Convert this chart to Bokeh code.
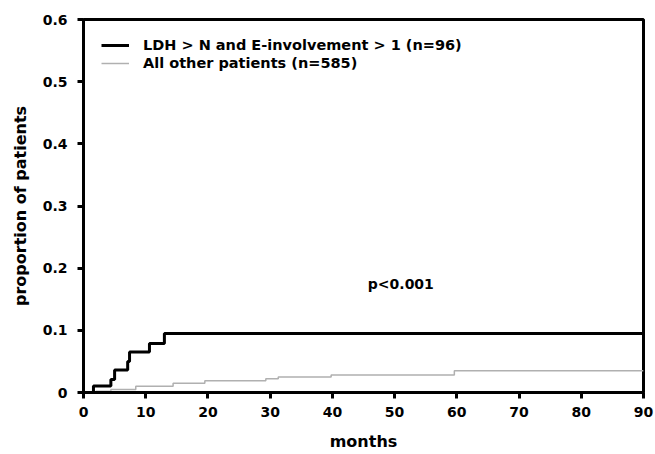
from bokeh.plotting import figure
from bokeh.models import Legend, LegendItem, Label
from bokeh.embed import file_html
from bokeh.resources import INLINE

# Data
high_months = [0, 1.6, 4.4, 5.0, 7.1, 7.4, 10.6, 13.0, 90]
high_prop = [0, 0.0104, 0.021, 0.036, 0.050, 0.065, 0.079, 0.095, 0.095]
other_months = [0, 2.0, 4.4, 8.4, 14.4, 19.5, 29.3, 31.3, 39.8, 59.6, 90]
other_prop = [0, 0.002, 0.005, 0.010, 0.015, 0.019, 0.022, 0.025, 0.028, 0.035, 0.035]
x_ticks = [0, 10, 20, 30, 40, 50, 60, 70, 80, 90]
y_ticks = [0, 0.1, 0.2, 0.3, 0.4, 0.5, 0.6]
y_tick_labels = {0: "0", 0.1: "0.1", 0.2: "0.2", 0.3: "0.3", 0.4: "0.4", 0.5: "0.5", 0.6: "0.6"}
label_high = "LDH > N and E-involvement > 1 (n=96)"
label_other = "All other patients (n=585)"
p_text = "p<0.001"
p_pos = (51, 0.175)

FONT = "DejaVu Sans"

p = figure(width=655, height=454, x_range=(0, 90), y_range=(0, 0.6),
           output_backend="svg", toolbar_location=None,
           min_border_left=83, min_border_right=12, min_border_top=19,
           min_border_bottom=62)

p.xgrid.visible = False
p.ygrid.visible = False
p.background_fill_color = "white"
p.border_fill_color = "white"
p.outline_line_color = "black"
p.outline_line_width = 3

r_high = p.step(high_months, high_prop, mode="after", line_color="black", line_width=3)
r_other = p.step(other_months, other_prop, mode="after", line_color="#b0b0b0", line_width=1.5)

for ax in (p.xaxis[0], p.yaxis[0]):
    ax.axis_line_width = 3
    ax.axis_line_color = "black"
    ax.major_tick_line_width = 3
    ax.major_tick_out = 6
    ax.major_tick_in = 0
    ax.minor_tick_line_color = None
    ax.major_label_text_font = FONT
    ax.major_label_text_font_style = "bold"
    ax.major_label_text_font_size = "14px"
    ax.major_label_text_color = "black"
    ax.axis_label_text_font = FONT
    ax.axis_label_text_font_style = "bold"
    ax.axis_label_text_font_size = "16px"
    ax.axis_label_text_color = "black"

p.xaxis.ticker = x_ticks
p.yaxis.ticker = y_ticks
p.yaxis.major_label_overrides = y_tick_labels
p.xaxis.axis_label = "months"
p.yaxis.axis_label = "proportion of patients"
p.xaxis.major_label_standoff = 8
p.yaxis.major_label_standoff = 10
p.xaxis.axis_label_standoff = 12
p.yaxis.axis_label_standoff = 10

legend = Legend(items=[LegendItem(label=label_high, renderers=[r_high]),
                       LegendItem(label=label_other, renderers=[r_other])],
                location="top_left")
legend.margin = 18
legend.padding = 3
legend.spacing = 2
legend.glyph_width = 28
legend.glyph_height = 16
legend.label_height = 16
legend.label_standoff = 14
legend.label_text_font = FONT
legend.label_text_font_style = "bold"
legend.label_text_font_size = "14.5px"
legend.label_text_color = "black"
legend.border_line_color = None
legend.background_fill_alpha = 0
p.add_layout(legend)

p.add_layout(Label(x=p_pos[0], y=p_pos[1], text=p_text, text_font=FONT,
                   text_font_style="bold", text_font_size="14px",
                   text_align="center", text_baseline="middle", text_color="black"))

open("out.html", "w").write(file_html(p, INLINE))
